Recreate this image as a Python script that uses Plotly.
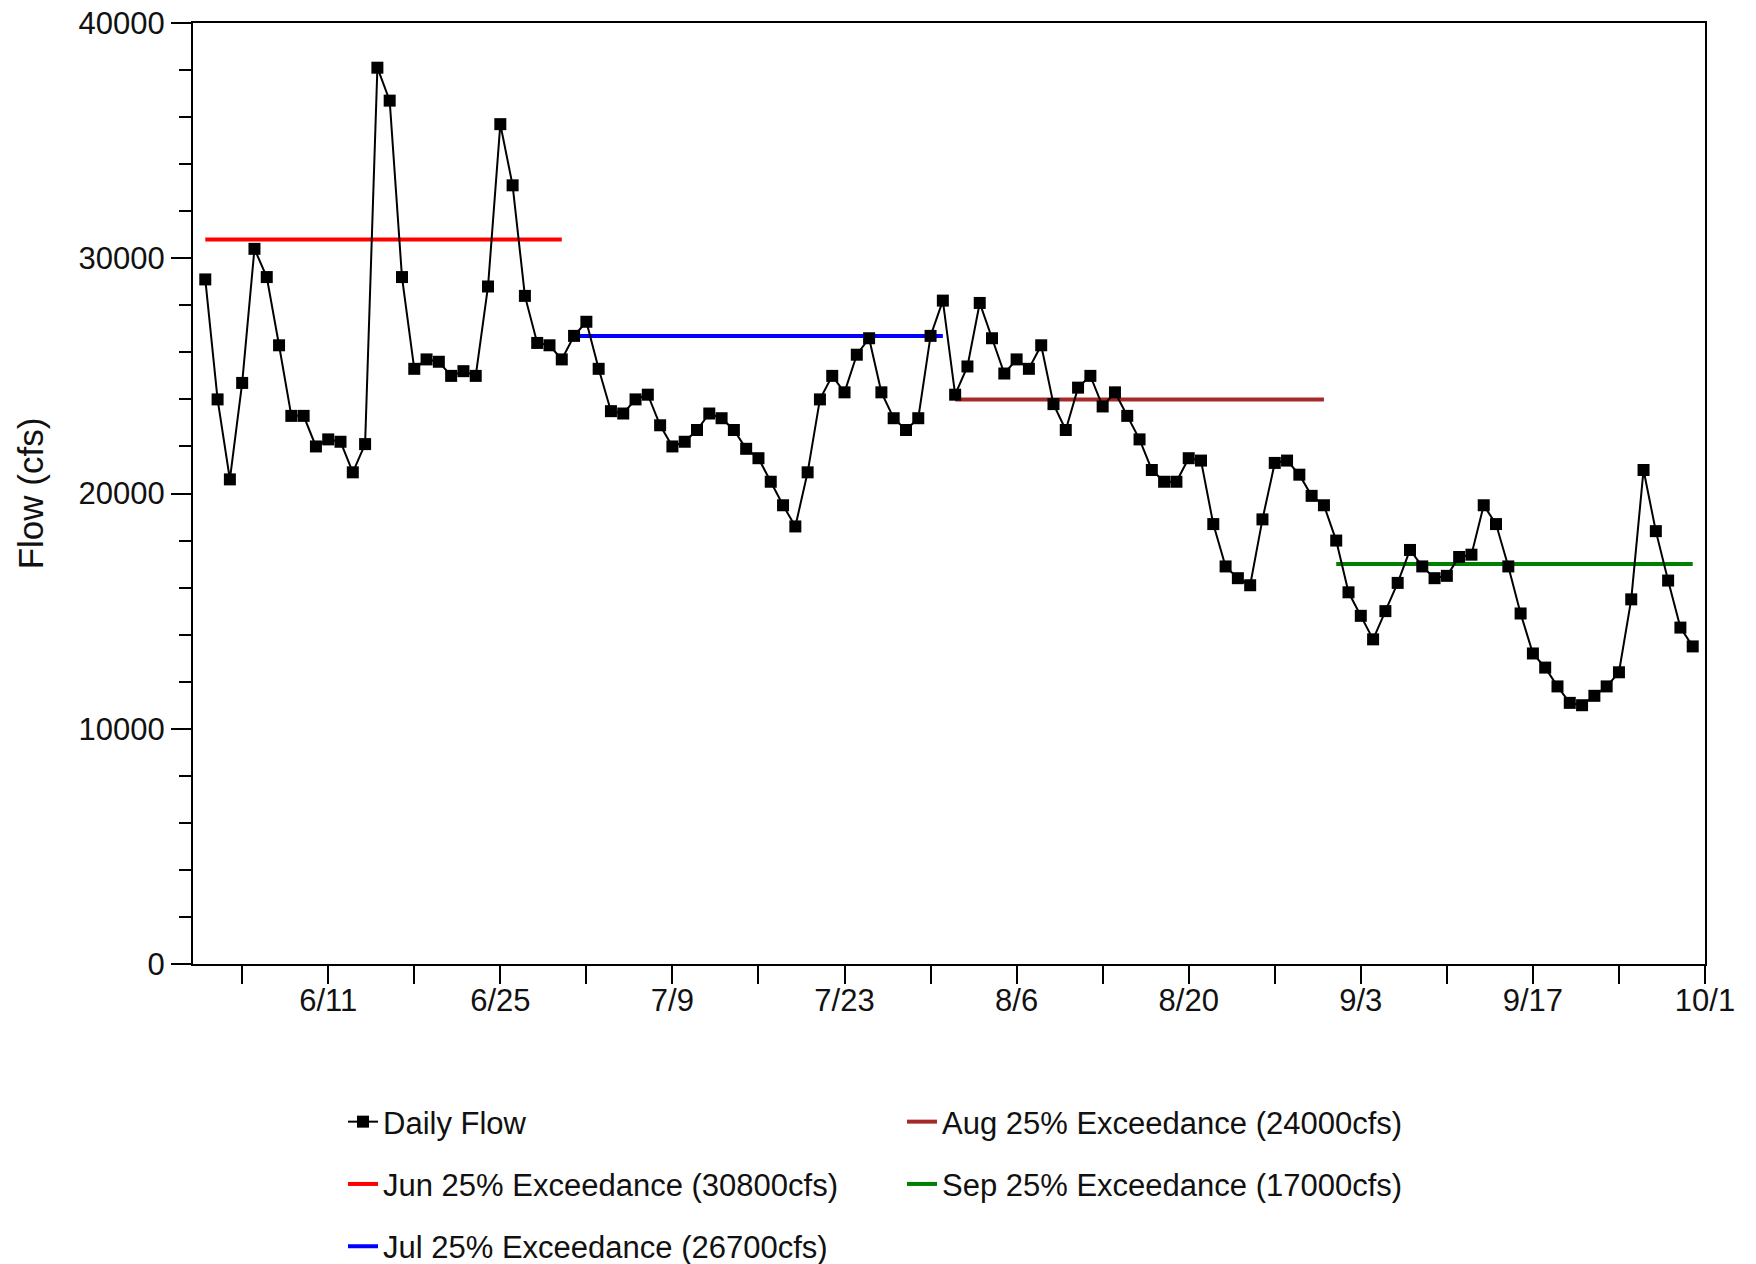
import pandas as pd
import plotly.graph_objects as go

# ---- data ----
start_date = "2000-06-01"
end_date = "2000-09-30"
daily_flow = [
    # June
    29100, 24000, 20600, 24700, 30400, 29200, 26300, 23300, 23300, 22000,
    22300, 22200, 20900, 22100, 38100, 36700, 29200, 25300, 25700, 25600,
    25000, 25200, 25000, 28800, 35700, 33100, 28400, 26400, 26300, 25700,
    # July
    26700, 27300, 25300, 23500, 23400, 24000, 24200, 22900, 22000, 22200,
    22700, 23400, 23200, 22700, 21900, 21500, 20500, 19500, 18600, 20900,
    24000, 25000, 24300, 25900, 26600, 24300, 23200, 22700, 23200, 26700, 28200,
    # August
    24200, 25400, 28100, 26600, 25100, 25700, 25300, 26300, 23800, 22700,
    24500, 25000, 23700, 24300, 23300, 22300, 21000, 20500, 20500, 21500,
    21400, 18700, 16900, 16400, 16100, 18900, 21300, 21400, 20800, 19900, 19500,
    # September
    18000, 15800, 14800, 13800, 15000, 16200, 17600, 16900, 16400, 16500,
    17300, 17400, 19500, 18700, 16900, 14900, 13200, 12600, 11800, 11100,
    11000, 11400, 11800, 12400, 15500, 21000, 18400, 16300, 14300, 13500,
]
months = ["Jun", "Jul", "Aug", "Sep"]
month_starts = ["2000-06-01", "2000-07-01", "2000-08-01", "2000-09-01"]
month_ends = ["2000-06-30", "2000-07-31", "2000-08-31", "2000-09-30"]
exceedance = [30800, 26700, 24000, 17000]
exc_colors = ["#FF0000", "#0000FF", "#A52A2A", "#008000"]
tick_dates = ["2000-06-04", "2000-06-11", "2000-06-18", "2000-06-25", "2000-07-02",
              "2000-07-09", "2000-07-16", "2000-07-23", "2000-07-30", "2000-08-06",
              "2000-08-13", "2000-08-20", "2000-08-27", "2000-09-03", "2000-09-10",
              "2000-09-17", "2000-09-24", "2000-10-01"]
tick_labels = ["", "6/11", "", "6/25", "", "7/9", "", "7/23", "", "8/6",
               "", "8/20", "", "9/3", "", "9/17", "", "10/1"]
x_range = ["2000-05-31", "2000-10-01"]
y_range = [0, 40000]

dates = pd.date_range(start_date, end_date, freq="D")

FONT = "Liberation Sans, Arial, sans-serif"

fig = go.Figure()

legend_assign = {"Jun": ("legend", 2), "Jul": ("legend", 3),
                 "Aug": ("legend2", 1), "Sep": ("legend2", 2)}
for m, s, e, v, c in zip(months, month_starts, month_ends, exceedance, exc_colors):
    lg, rank = legend_assign[m]
    fig.add_trace(go.Scatter(
        x=[s, e], y=[v, v], mode="lines",
        line=dict(color=c, width=4),
        name=f"{m} 25% Exceedance ({v}cfs)",
        legend=lg, legendrank=rank, legendgroup=m,
        hoverinfo="skip",
    ))

fig.add_trace(go.Scatter(
    x=dates, y=daily_flow, mode="lines+markers",
    line=dict(color="black", width=2),
    marker=dict(symbol="square", size=12, color="black"),
    name="Daily Flow", legend="legend", legendrank=1, legendgroup="daily",
))

# plot area at x 193..1705, y 23..963
PL, PW = 193, 1512
legend_common = dict(
    font=dict(family=FONT, size=31, color="#111"),
    bgcolor="rgba(0,0,0,0)",
    traceorder="grouped",
    tracegroupgap=19,
    orientation="v",
    xref="paper", yref="container",
    xanchor="left", yanchor="top",
)

fig.update_layout(
    width=1756, height=1264,
    paper_bgcolor="white", plot_bgcolor="white",
    margin=dict(l=193, r=51, t=23, b=300),
    font=dict(family=FONT, size=31, color="#111"),
    showlegend=True,
    legend=dict(x=(343 - PL) / PW, y=1 - 1095 / 1264, **legend_common),
    legend2=dict(x=(902 - PL) / PW, y=1 - 1095 / 1264, **legend_common),
)

fig.update_xaxes(
    type="date", range=x_range, automargin=False,
    tickmode="array", tickvals=tick_dates, ticktext=tick_labels,
    ticks="outside", ticklen=18, tickwidth=2, tickcolor="black",
    ticklabelstandoff=-10, ticklabeloverflow="allow",
    showline=True, linecolor="black", linewidth=2, mirror=True,
    showgrid=False, zeroline=False,
    tickfont=dict(family=FONT, size=31, color="#111"),
)
fig.update_yaxes(
    range=y_range, dtick=10000, tick0=0, tickformat="d", automargin=False,
    ticklabeloverflow="allow",
    ticks="outside", ticklen=20, tickwidth=2, tickcolor="black",
    minor=dict(dtick=2000, ticks="outside", ticklen=12, tickwidth=2, tickcolor="black"),
    showline=True, linecolor="black", linewidth=2, mirror=True,
    showgrid=False, zeroline=False,
    tickfont=dict(family=FONT, size=31, color="#111"),
    title=dict(text="Flow (cfs)", font=dict(family=FONT, size=35, color="#111"), standoff=24),
)

fig.write_html(
    "out.html",
    config={"displayModeBar": False},
    post_script="document.body.style.margin='0px';document.body.style.padding='0px';",
)
